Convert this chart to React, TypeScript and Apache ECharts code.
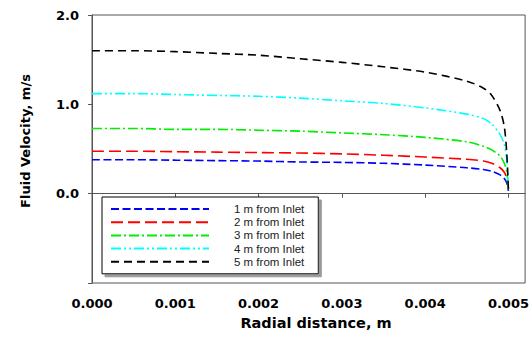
import React, { useEffect, useRef } from "react";
import * as echarts from "echarts";

const radialDistance = [0, 0.0005, 0.001, 0.0015, 0.002, 0.0025, 0.003, 0.0035, 0.004, 0.0045, 0.0047, 0.0048, 0.0049, 0.00495, 0.00498, 0.005];
const inlet1m = [0.38, 0.38, 0.375, 0.37, 0.365, 0.355, 0.35, 0.34, 0.32, 0.29, 0.27, 0.25, 0.21, 0.17, 0.12, 0.03];
const inlet2m = [0.475, 0.475, 0.47, 0.465, 0.46, 0.455, 0.445, 0.43, 0.41, 0.385, 0.365, 0.34, 0.29, 0.24, 0.17, 0.05];
const inlet3m = [0.73, 0.73, 0.72, 0.72, 0.71, 0.70, 0.68, 0.66, 0.63, 0.58, 0.53, 0.49, 0.42, 0.34, 0.24, 0.05];
const inlet4m = [1.12, 1.12, 1.11, 1.10, 1.09, 1.07, 1.04, 1.01, 0.96, 0.89, 0.84, 0.78, 0.66, 0.55, 0.38, 0.05];
const inlet5m = [1.60, 1.60, 1.59, 1.57, 1.55, 1.51, 1.47, 1.42, 1.36, 1.26, 1.18, 1.10, 0.93, 0.75, 0.45, 0.03];

const seriesNames = ["1 m from Inlet", "2 m from Inlet", "3 m from Inlet", "4 m from Inlet", "5 m from Inlet"];
const xTicks = [0, 0.001, 0.002, 0.003, 0.004, 0.005];
const yTicks = [-1, 0, 1, 2];

export default function App() {
  const ref = useRef<HTMLDivElement>(null);
  useEffect(() => {
    if (!ref.current) return;
    const chart = echarts.init(ref.current, null, { renderer: "svg" });
    const values = [inlet1m, inlet2m, inlet3m, inlet4m, inlet5m];
    const colors = ["#0000ff", "#ff0000", "#00ee00", "#00ffff", "#000000"];
    const dashes: number[][] = [
      [8, 3.5],
      [12, 5],
      [10, 3, 2, 3],
      [10, 3, 2, 3, 2, 3],
      [8, 5],
    ];
    const axisColor = "#555555";
    const labelFont = { fontFamily: "DejaVu Sans", fontWeight: "bold" as const, fontSize: 13, color: "#000" };
    chart.setOption({
      animation: false,
      backgroundColor: "#ffffff",
      grid: { left: 92, right: 6, top: 15, bottom: 62, show: true, borderColor: axisColor, borderWidth: 1 },
      xAxis: {
        type: "value",
        min: 0,
        max: 0.0052,
        interval: 0.001,
        axisLine: { show: true, lineStyle: { color: axisColor, width: 1 } },
        axisTick: { show: true, length: 4, inside: false, lineStyle: { color: axisColor }, customValues: xTicks },
        axisLabel: { ...labelFont, margin: 14, formatter: (v: number) => v.toFixed(3), customValues: xTicks },
        splitLine: { show: false },
      },
      yAxis: {
        type: "value",
        min: -1,
        max: 2,
        interval: 1,
        axisLine: { show: true, lineStyle: { color: axisColor, width: 1 } },
        axisTick: { show: true, length: 4, inside: false, lineStyle: { color: axisColor }, customValues: yTicks },
        axisLabel: { ...labelFont, margin: 13, formatter: (v: number) => (v < 0 ? "" : v.toFixed(1)), customValues: yTicks },
        splitLine: { show: false },
      },
      legend: {
        orient: "vertical",
        left: 102,
        top: 197,
        padding: [6, 14, 6, 8],
        itemWidth: 98,
        itemHeight: 8,
        itemGap: 1.2,
        itemStyle: { opacity: 0 },
        backgroundColor: "#ffffff",
        borderColor: "#000000",
        borderWidth: 1,
        borderRadius: 0,
        shadowColor: "#9a9a9a",
        shadowOffsetX: 3,
        shadowOffsetY: 3,
        shadowBlur: 0,
        textStyle: { fontFamily: "Liberation Sans", fontSize: 11.5, color: "#222", lineHeight: 12, padding: [0, 0, 0, 20] },
        data: seriesNames,
      },
      graphic: [
        {
          type: "text",
          x: 316,
          y: 323,
          style: { text: "Radial distance, m", fontFamily: "DejaVu Sans", fontWeight: "bold", fontSize: 14.5, fill: "#000", align: "center", verticalAlign: "middle" },
        },
        {
          type: "text",
          x: 25,
          y: 141,
          rotation: Math.PI / 2,
          style: { text: "Fluid Velocity, m/s", fontFamily: "DejaVu Sans", fontWeight: "bold", fontSize: 13, fill: "#000", align: "center", verticalAlign: "middle" },
        },
      ],
      series: seriesNames.map((name, i) => ({
        name,
        type: "line",
        symbol: "none",
        smooth: 0.3,
        data: radialDistance.map((x, j) => [x, values[i][j]]),
        lineStyle: { color: colors[i], width: 1.6, type: dashes[i] },
        itemStyle: { color: colors[i] },
      })),
    });
    return () => chart.dispose();
  }, []);
  return <div ref={ref} style={{ position: "fixed", left: 0, top: 0, width: 532, height: 345 }} />;
}
